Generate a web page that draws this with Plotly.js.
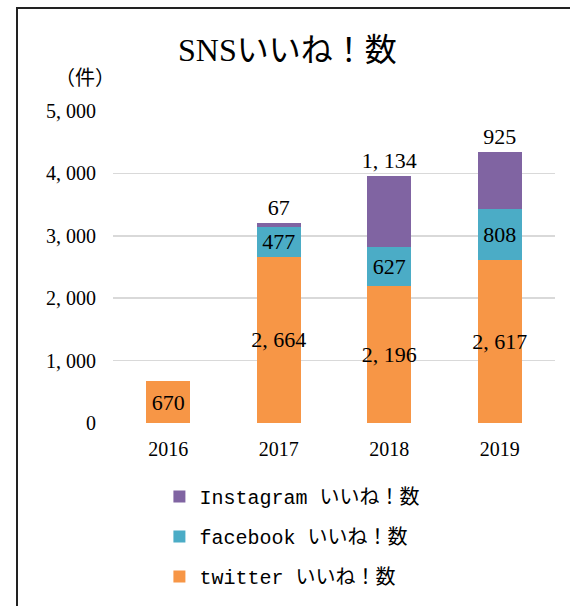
<!DOCTYPE html>
<html>
<head>
<meta charset="utf-8">
<script src="https://cdn.plot.ly/plotly-3.0.1.min.js"></script>
<style>
  html, body { margin: 0; padding: 0; background: #fff; }
  #wrap { position: absolute; left: 0; top: 0; width: 570px; height: 606px; overflow: hidden; background: #fff; }
  #chart { position: absolute; left: 16px; top: 7px; width: 552px; height: 597px;
           border-left: 2px solid #222; border-top: 2px solid #222; }
</style>
</head>
<body>
<div id="wrap"><div id="chart"></div></div>
<script>
const years = ['2016', '2017', '2018', '2019'];
const twitter = [670, 2664, 2196, 2617];
const facebook = [null, 477, 627, 808];
const instagram = [null, 67, 1134, 925];
const yTickVals = [0, 1000, 2000, 3000, 4000, 5000];
const yTickText = ['0', '1, 000', '2, 000', '3, 000', '4, 000', '5, 000'];
const seriesNames = ['twitter いいね！数', 'facebook いいね！数', 'Instagram いいね！数'];
const titleText = 'SNSいいね！数';
const unitText = '（件）';

const serif = '"Liberation Serif", "Noto Sans CJK JP", serif';
const mono = '"Liberation Mono", "Noto Sans CJK JP", monospace';

function fmt(v) {
  if (v === null || v === undefined) return '';
  const s = String(v);
  return s.length > 3 ? s.slice(0, s.length - 3) + ', ' + s.slice(-3) : s;
}

function barTrace(name, vals, color, pos, group, rank) {
  return {
    type: 'bar', name: name, x: years, y: vals,
    marker: { color: color, line: { width: 0 } },
    text: vals.map(fmt), textposition: pos, insidetextanchor: 'middle',
    textangle: 0, constraintext: 'none', cliponaxis: false,
    textfont: { family: serif, size: 22, color: '#000' },
    insidetextfont: { family: serif, size: 22, color: '#000' },
    outsidetextfont: { family: serif, size: 22, color: '#000' },
    legendgroup: group, legendrank: rank, hoverinfo: 'skip'
  };
}

const data = [
  barTrace(seriesNames[0], twitter, '#F79646', 'inside', 'g1', 3),
  barTrace(seriesNames[1], facebook, '#4BACC6', 'inside', 'g2', 2),
  barTrace(seriesNames[2], instagram, '#8064A2', 'outside', 'g3', 1)
];

const layout = {
  width: 552, height: 597,
  margin: { l: 95, r: 15, t: 102, b: 183, autoexpand: false },
  paper_bgcolor: '#fff', plot_bgcolor: '#fff',
  barmode: 'stack', bargap: 0.6,
  showlegend: true,
  title: { text: titleText, font: { family: serif, size: 32, color: '#000' },
           x: 0.488, xref: 'container', xanchor: 'center',
           y: 0.931, yref: 'container', yanchor: 'middle' },
  xaxis: { type: 'category', showgrid: false, zeroline: false, showline: false,
           ticks: '', ticklabelstandoff: 12,
           tickfont: { family: serif, size: 20, color: '#000' } },
  yaxis: { range: [0, 5000], tickvals: yTickVals, ticktext: yTickText,
           showgrid: true, gridcolor: '#D9D9D9', gridwidth: 1.5,
           zeroline: false, showline: false, ticks: '', ticklabelstandoff: 16,
           tickfont: { family: serif, size: 20, color: '#000' } },
  legend: { orientation: 'v', traceorder: 'grouped', tracegroupgap: 11,
            x: 0.105, xanchor: 'left', y: -0.173, yanchor: 'top',
            font: { family: mono, size: 20, color: '#000' },
            bgcolor: 'rgba(0,0,0,0)' },
  annotations: [{ text: unitText, xref: 'paper', yref: 'paper', x: -0.063, y: 1.106,
                  xanchor: 'center', yanchor: 'middle', showarrow: false,
                  font: { family: serif, size: 20, color: '#000' } }]
};

Plotly.newPlot('chart', data, layout, { staticPlot: true, displayModeBar: false });
</script>
</body>
</html>
